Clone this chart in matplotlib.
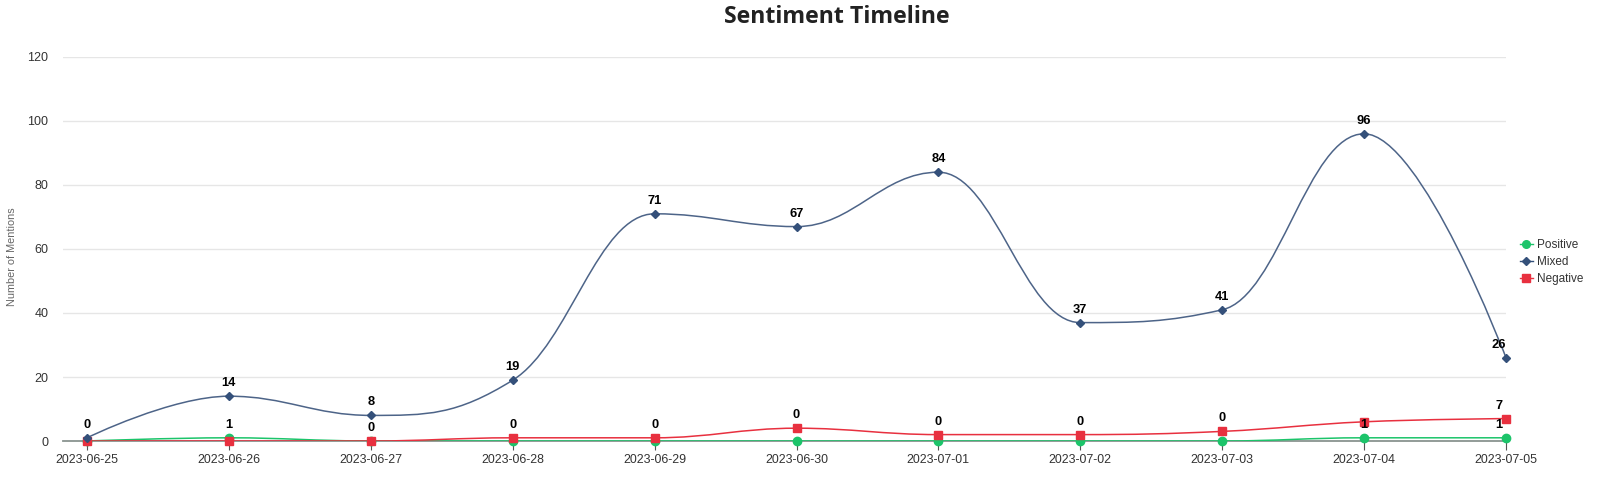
import numpy as np
import matplotlib
matplotlib.use('Agg')
from matplotlib import pyplot as plt
from matplotlib.path import Path
from matplotlib.patches import PathPatch
from matplotlib.lines import Line2D

# Data
dates = ['2023-06-25', '2023-06-26', '2023-06-27', '2023-06-28', '2023-06-29', '2023-06-30',
         '2023-07-01', '2023-07-02', '2023-07-03', '2023-07-04', '2023-07-05']
positive = [0, 1, 0, 0, 0, 0, 0, 0, 0, 1, 1]
mixed = [1, 14, 8, 19, 71, 67, 84, 37, 41, 96, 26]
negative = [0, 0, 0, 1, 1, 4, 2, 2, 3, 6, 7]

# labels as printed on the chart (text, series it sits on)
mixed_labels = ['', '14', '8', '19', '71', '67', '84', '37', '41', '96', '26']
low_labels = ['0', '1', '0', '0', '0', '0', '0', '0', '0', '1', '1']
low_anchor = ['mixed', 'positive', 'positive', 'negative', 'negative', 'negative',
              'negative', 'negative', 'negative', 'positive', 'positive']
extra_labels = [(10, '7', 'negative')]

C_POS = '#1cc46a'
C_MIX = '#4d6488'
C_MIX_MK = '#34507a'
C_NEG = '#e8303f'


def spline_path(xs, ys, smoothing=1.5):
    '''Highcharts-like spline through the points, as a bezier path'''
    n = len(xs)
    lc = [None] * n
    rc = [None] * n
    for i in range(n):
        x, y = xs[i], ys[i]
        if i == 0 or i == n - 1:
            lc[i] = (x, y)
            rc[i] = (x, y)
            continue
        px, py = xs[i - 1], ys[i - 1]
        nx, ny = xs[i + 1], ys[i + 1]
        d = smoothing + 1
        lx, ly = (smoothing * x + px) / d, (smoothing * y + py) / d
        rx, ry = (smoothing * x + nx) / d, (smoothing * y + ny) / d
        if rx != lx:
            corr = (ry - ly) * (rx - x) / (rx - lx) + y - ry
            ly += corr
            ry += corr
        if ly > max(py, y):
            ly = max(py, y)
            ry = 2 * y - ly
        elif ly < min(py, y):
            ly = min(py, y)
            ry = 2 * y - ly
        if ry > max(y, ny):
            ry = max(y, ny)
            ly = 2 * y - ry
        elif ry < min(y, ny):
            ry = min(y, ny)
            ly = 2 * y - ry
        lc[i] = (lx, ly)
        rc[i] = (rx, ry)
    verts = [(xs[0], ys[0])]
    codes = [Path.MOVETO]
    for i in range(1, n):
        verts += [rc[i - 1], lc[i], (xs[i], ys[i])]
        codes += [Path.CURVE4] * 3
    return Path(verts, codes)


fig = plt.figure(figsize=(16, 4.79), dpi=100)
# plot area: x 63..1506 px, y 57..441 px
ax = fig.add_axes([63 / 1600, 1 - 441 / 479, (1506 - 63) / 1600, (441 - 57) / 479])
x = np.arange(len(dates))

for vals, col in [(positive, C_POS), (negative, C_NEG), (mixed, C_MIX)]:
    ax.add_patch(PathPatch(spline_path(x, vals), fill=False, edgecolor=col, lw=1.1, zorder=3))

ax.plot(x, positive, ls='none', marker='o', ms=6, color=C_POS, zorder=4, clip_on=False)
ax.plot(x, negative, ls='none', marker='s', ms=6, color=C_NEG, zorder=4, clip_on=False)
ax.plot(x, mixed, ls='none', marker='D', ms=4.5, color=C_MIX_MK, zorder=5, clip_on=False)

series = {'positive': positive, 'mixed': mixed, 'negative': negative}
lbl = dict(ha='center', va='bottom', fontsize=9.3, fontweight='bold', color='black',
           family='Liberation Sans', zorder=6)


def put_label(i, text, y):
    # labels at the last point are pushed inside the plot area
    dx = -5 if i == len(dates) - 1 else 0
    ax.annotate(text, (x[i], y), xytext=(dx, 5), textcoords='offset points', **lbl)


for i, t in enumerate(mixed_labels):
    if t:
        put_label(i, t, mixed[i])
for i, t in enumerate(low_labels):
    put_label(i, t, series[low_anchor[i]][i])
for i, t, s in extra_labels:
    put_label(i, t, series[s][i])

spacing = (1506 - 87) / 10
ax.set_xlim(-(87 - 63) / spacing, 10)
ax.set_ylim(0, 120)
ax.set_yticks(range(0, 121, 20))
ax.set_xticks(x)
ax.set_xticklabels(dates)
ax.grid(axis='y', color='#e6e6e6', lw=1)
ax.set_axisbelow(True)
for s in ['top', 'right', 'left']:
    ax.spines[s].set_visible(False)
ax.spines['bottom'].set_color('#8a9490')
ax.spines['bottom'].set_linewidth(1.3)
ax.spines['bottom'].set_zorder(2)
ax.tick_params(axis='x', length=6.5, color='#555555', labelsize=8.9, labelcolor='#333333', pad=3)
ax.tick_params(axis='y', length=0, labelsize=9, labelcolor='#333333', pad=10.5)
for t in ax.get_xticklabels() + ax.get_yticklabels():
    t.set_family('Liberation Sans')

ax.set_ylabel('Number of Mentions', fontsize=7.8, color='#666666', family='Liberation Sans')
ax.yaxis.set_label_coords(-(63 - 17) / 1443, 0.48)
fig.text(837 / 1600, 1 - 17 / 479, 'Sentiment Timeline', ha='center', va='center', fontsize=16.7,
         fontweight='bold', family='Open Sans', color='#222222')

handles = [Line2D([], [], color=C_POS, marker='o', ms=5.5, lw=1),
           Line2D([], [], color=C_MIX_MK, marker='D', ms=4, lw=1),
           Line2D([], [], color=C_NEG, marker='s', ms=5.5, lw=1)]
leg = fig.legend(handles, ['Positive', 'Mixed', 'Negative'], loc='center left',
                 bbox_to_anchor=(1520 / 1600, 1 - 262 / 479), frameon=False, handlelength=1.1,
                 handletextpad=0.35, labelspacing=0.45, borderaxespad=0, borderpad=0,
                 prop={'family': 'Liberation Sans', 'size': 8.5})
for t in leg.get_texts():
    t.set_color('#333333')

fig.savefig('out.png', dpi=100)
